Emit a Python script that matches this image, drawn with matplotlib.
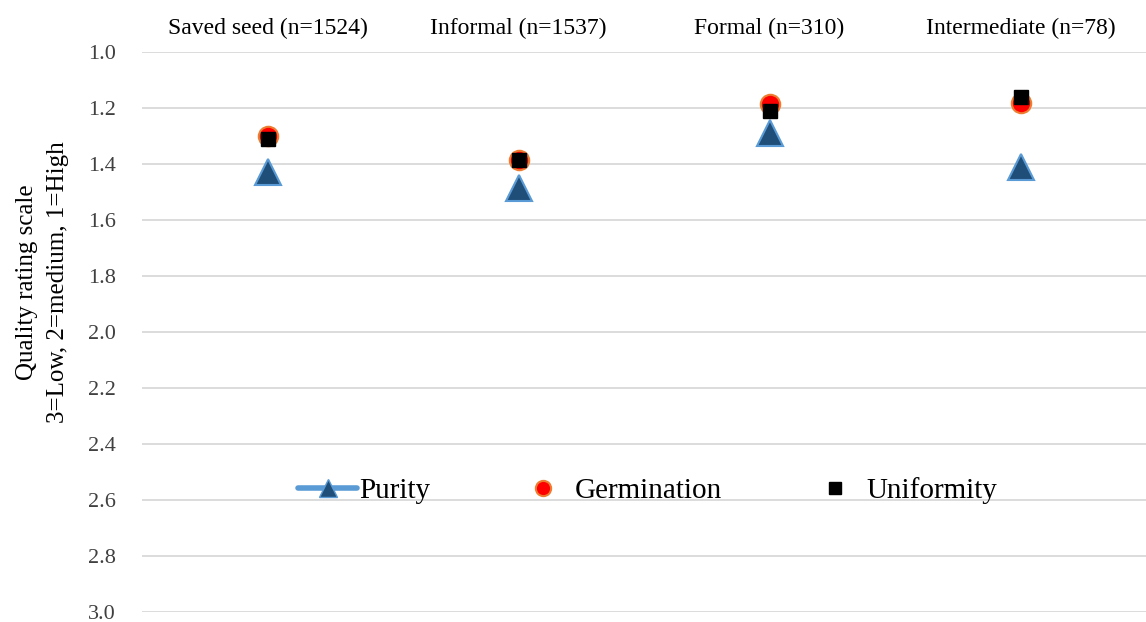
import matplotlib
matplotlib.use("Agg")
import matplotlib.pyplot as plt
from matplotlib.lines import Line2D

categories = ["Saved seed (n=1524)", "Informal (n=1537)", "Formal (n=310)", "Intermediate (n=78)"]
purity = [1.43, 1.485, 1.29, 1.41]
germination = [1.30, 1.385, 1.187, 1.183]
uniformity = [1.31, 1.385, 1.21, 1.16]
yticks = [1.0, 1.2, 1.4, 1.6, 1.8, 2.0, 2.2, 2.4, 2.6, 2.8, 3.0]

plt.rcParams["font.family"] = ["Liberation Serif", "DejaVu Serif"]

W, H = 1146, 622
fig = plt.figure(figsize=(W / 100, H / 100), dpi=100)
ax = fig.add_axes([142 / W, 1 - 612 / H, (W - 142) / W, (612 - 52) / H])

x = list(range(len(categories)))
ax.plot(x, purity, linestyle="none", marker="^", markersize=19,
        markerfacecolor="#1F4E79", markeredgecolor="#5B9BD5", markeredgewidth=1.5, zorder=3)
ax.plot(x, germination, linestyle="none", marker="o", markersize=14,
        markerfacecolor="#FF0000", markeredgecolor="#ED7D31", markeredgewidth=1.5, zorder=4)
ax.plot(x, uniformity, linestyle="none", marker="s", markersize=10.5,
        markerfacecolor="#000000", markeredgecolor="#000000", zorder=5)

ax.set_xlim(-0.5, len(categories) - 0.5)
ax.set_ylim(3.0, 1.0)
ax.set_yticks(yticks)
ax.set_yticklabels([f"{v:.1f}" for v in yticks], fontsize=16, color="#404040")
ax.tick_params(axis="y", length=0, pad=19)
ax.xaxis.tick_top()
ax.set_xticks(x)
ax.set_xticklabels(categories, fontsize=17)
ax.tick_params(axis="x", length=0, pad=9)
ax.grid(axis="y", color="#D9D9D9", linewidth=1.3)
ax.set_axisbelow(True)
for s in ax.spines.values():
    s.set_visible(False)

ax.set_ylabel("Quality rating scale\n3=Low, 2=medium, 1=High", fontsize=18, linespacing=1.5)
ax.yaxis.set_label_coords(-(142 - 69) / (W - 142), (612 - 282) / 560)

handles = [
    Line2D([], [], color="#5B9BD5", linewidth=4, solid_capstyle="round", marker="^", markersize=13,
           markerfacecolor="#1F4E79", markeredgecolor="#5B9BD5"),
    Line2D([], [], linestyle="none", marker="o", markersize=11,
           markerfacecolor="#FF0000", markeredgecolor="#ED7D31", markeredgewidth=1.5),
    Line2D([], [], linestyle="none", marker="s", markersize=8,
           markerfacecolor="#000000", markeredgecolor="#000000"),
]
ax.legend(handles, ["Purity", "Germination", "Uniformity"], loc="center",
          bbox_to_anchor=(0.5 + 4 / (W - 142), (612 - 491) / 560), ncol=3, frameon=False,
          fontsize=21, handlelength=2.0, handletextpad=0.1, columnspacing=2.85)

fig.savefig("out.png", dpi=100)
